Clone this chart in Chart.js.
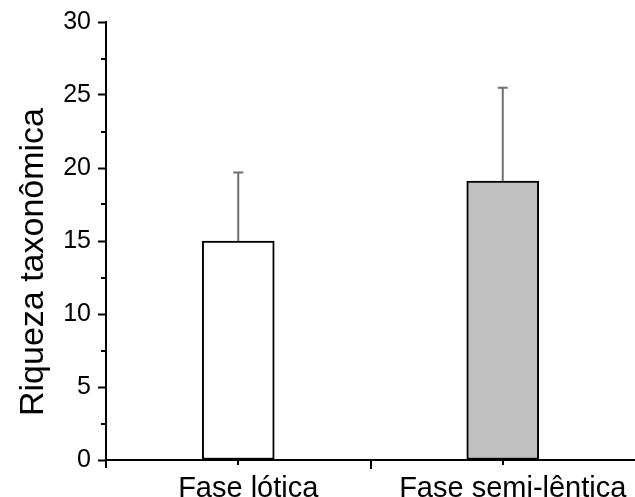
<!DOCTYPE html>
<html>
<head>
    <meta charset="utf-8">
    <title>Riqueza taxonômica</title>
    <script src="https://cdn.jsdelivr.net/npm/chart.js"></script>
    <style>
        body { margin: 0; background: #fff; }
        #wrap { width: 635px; height: 497px; }
    </style>
</head>
<body>
    <div id="wrap"><canvas id="richChart"></canvas></div>
    <script>
        const phases = ['Fase lótica', 'Fase semi-lêntica'];
        const richness = [15.0, 19.1];
        const richnessSd = [4.7, 6.4];
        const barColors = ['#ffffff', '#c0c0c0'];
        const yTicks = [0, 5, 10, 15, 20, 25, 30];
        const yTitle = 'Riqueza taxonômica';

        // error bars (upper half only), the small extra tick marks and the y title
        const extras = {
            id: 'extras',
            afterDatasetsDraw(chart) {
                const ctx = chart.ctx;
                const y = chart.scales.y;
                const x = chart.scales.x;
                const meta = chart.getDatasetMeta(0);
                ctx.save();
                ctx.strokeStyle = '#707070';
                ctx.lineWidth = 2;
                meta.data.forEach((bar, i) => {
                    const top = y.getPixelForValue(richness[i] + richnessSd[i]);
                    ctx.beginPath();
                    ctx.moveTo(bar.x, bar.y);
                    ctx.lineTo(bar.x, top);
                    ctx.moveTo(bar.x - 5, top);
                    ctx.lineTo(bar.x + 5, top);
                    ctx.stroke();
                });
                ctx.strokeStyle = '#000';
                ctx.lineWidth = 2;
                // minor y ticks
                for (let v = 2.5; v < 30; v += 5) {
                    const py = Math.round(y.getPixelForValue(v));
                    ctx.beginPath();
                    ctx.moveTo(y.right - 5, py);
                    ctx.lineTo(y.right, py);
                    ctx.stroke();
                }
                // minor x ticks at category centres
                phases.forEach((p, i) => {
                    const px = Math.round(x.getPixelForValue(i));
                    ctx.beginPath();
                    ctx.moveTo(px, x.top);
                    ctx.lineTo(px, x.top + 5);
                    ctx.stroke();
                });
                // major x tick between categories
                const mid = Math.round((x.getPixelForValue(0) + x.getPixelForValue(1)) / 2);
                ctx.beginPath();
                ctx.moveTo(mid, x.top);
                ctx.lineTo(mid, x.top + 9);
                ctx.stroke();
                // y axis runs a little below the x axis
                ctx.beginPath();
                ctx.moveTo(y.right, x.top);
                ctx.lineTo(y.right, x.top + 8);
                ctx.stroke();

                // rotated y axis title
                ctx.translate(43, 262);
                ctx.rotate(-Math.PI / 2);
                ctx.fillStyle = '#000';
                ctx.font = '34px "Liberation Sans"';
                ctx.textAlign = 'center';
                ctx.textBaseline = 'alphabetic';
                ctx.fillText(yTitle, 0, 0);
                ctx.restore();
            }
        };

        new Chart(document.getElementById('richChart'), {
            type: 'bar',
            data: {
                labels: phases,
                datasets: [{
                    data: richness,
                    backgroundColor: barColors,
                    borderColor: '#000',
                    borderWidth: 2,
                    borderSkipped: false,
                    barThickness: 72
                }]
            },
            options: {
                responsive: true,
                maintainAspectRatio: false,
                animation: false,
                layout: { padding: { top: 10, right: 0, left: 0, bottom: 0 } },
                plugins: {
                    legend: { display: false },
                    tooltip: { enabled: false }
                },
                scales: {
                    x: {
                        offset: true,
                        border: { color: '#000', width: 2 },
                        grid: { display: false },
                        ticks: {
                            color: '#000',
                            padding: 4,
                            labelOffset: 10,
                            font: { family: 'Liberation Sans', size: 29 }
                        },
                        afterFit(s) { s.height = 37; }
                    },
                    y: {
                        min: 0,
                        max: 30,
                        afterBuildTicks(s) { s.ticks = yTicks.map(v => ({ value: v })); },
                        border: { color: '#000', width: 2 },
                        grid: {
                            display: true,
                            drawOnChartArea: false,
                            drawTicks: true,
                            tickLength: 8,
                            tickWidth: 2,
                            tickColor: '#000'
                        },
                        ticks: {
                            color: '#000',
                            padding: 7,
                            font: { family: 'Liberation Sans', size: 25 }
                        },
                        afterFit(s) { s.width = 106; }
                    }
                }
            },
            plugins: [extras]
        });
    </script>
</body>
</html>
